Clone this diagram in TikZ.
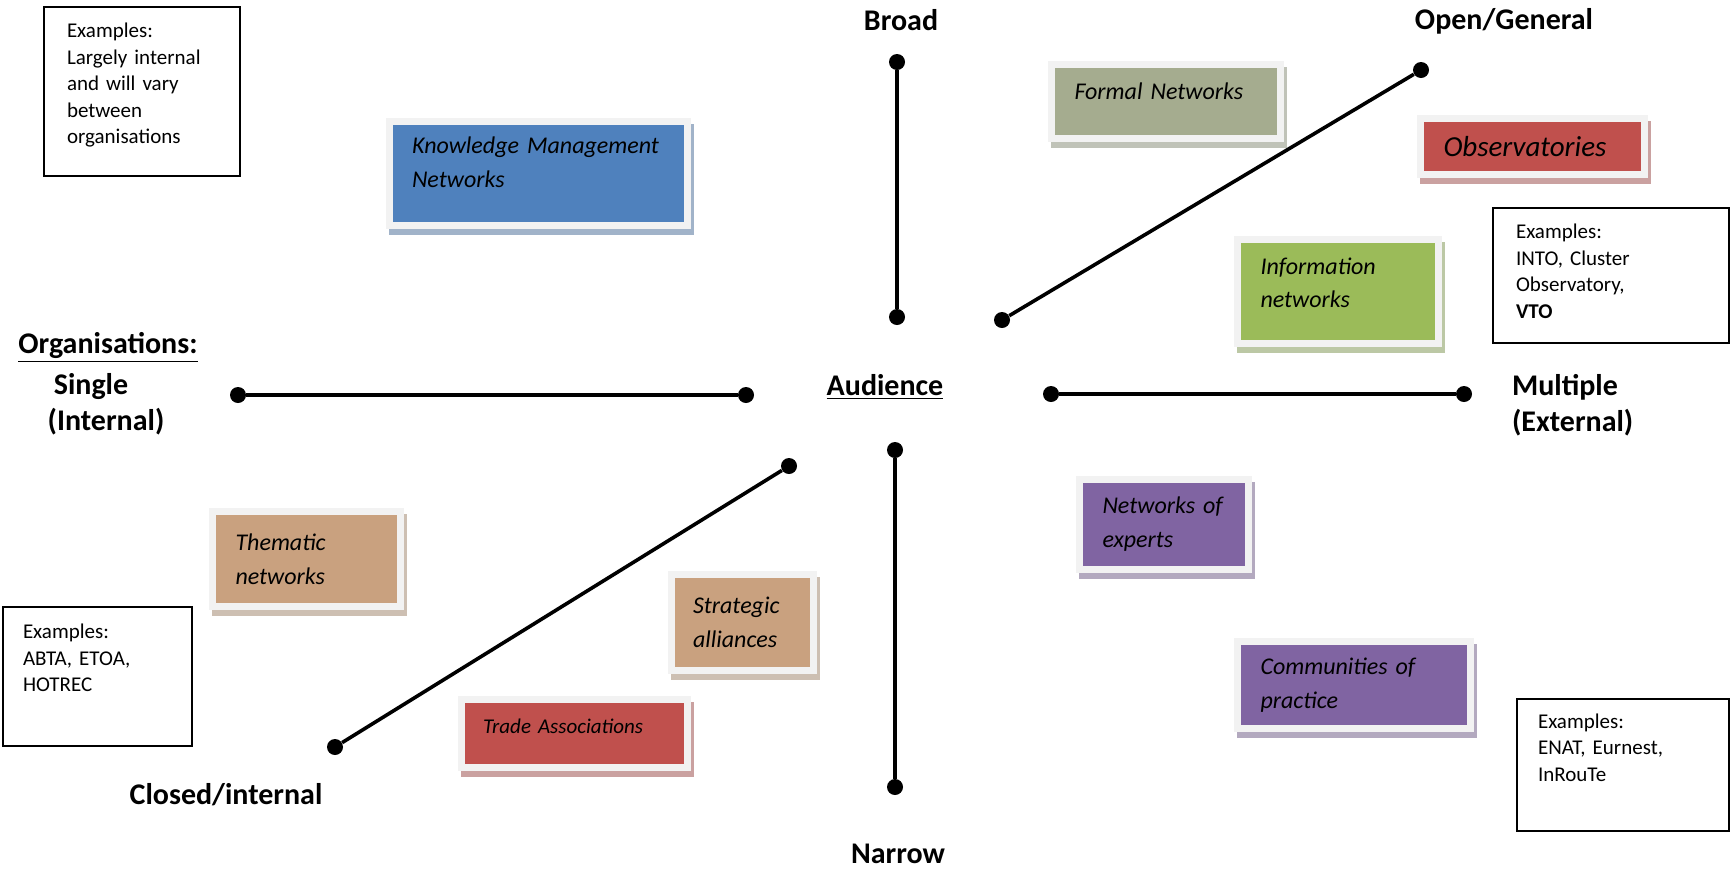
\documentclass[tikz,border=0pt]{standalone}
\usepackage{fontspec}
\setmainfont{Carlito}
\usetikzlibrary{shadows}

\definecolor{kmblue}{HTML}{4F81BD}
\definecolor{formalgrey}{HTML}{A5AC8F}
\definecolor{obsred}{HTML}{C0504D}
\definecolor{infogreen}{HTML}{9BBB59}
\definecolor{tan}{HTML}{C9A17F}
\definecolor{expurple}{HTML}{8064A2}
\definecolor{framegrey}{HTML}{F2F2F2}

\begin{document}
\begin{tikzpicture}[
		x=0.5pt, y=-0.5pt,
		axis/.style={line width=1.8pt},
		dot/.style={circle, fill, inner sep=0pt, minimum size=8pt},
		pole/.style={font=\bfseries\fontsize{15}{18}\selectfont, align=center},
		netbox/.style={fill=#1, draw=framegrey, line width=3.5pt,
			inner xsep=11.5pt, inner ysep=0pt, align=left,
			font=\itshape\fontsize{12}{17}\selectfont,
			general shadow={shadow xshift=1.5pt, shadow yshift=-3pt,
				fill=#1!60!gray!60, draw=#1!60!gray!60}},
		example/.style={draw, line width=1pt, fill=white, inner xsep=11.5pt,
			inner ysep=0pt, align=left, font=\fontsize{10.5}{13.3}\selectfont}]

		\useasboundingbox (0,0) rectangle (1733,869);

		\node[dot] (b1) at (897,62) {};
		\node[dot] (b2) at (897,317) {};
		\node[dot] (n1) at (895,450) {};
		\node[dot] (n2) at (895,787) {};
		\node[dot] (s1) at (238,395) {};
		\node[dot] (s2) at (746,395) {};
		\node[dot] (m1) at (1051,394) {};
		\node[dot] (m2) at (1464,394) {};
		\node[dot] (o1) at (1002,320) {};
		\node[dot] (o2) at (1421,70) {};
		\node[dot] (c1) at (335,747) {};
		\node[dot] (c2) at (789,466) {};

		\draw[axis] (b1) -- (b2);
		\draw[axis] (n1) -- (n2);
		\draw[axis] (s1) -- (s2);
		\draw[axis] (m1) -- (m2);
		\draw[axis] (o1) -- (o2);
		\draw[axis] (c1) -- (c2);

		\node[pole] (broad) at (901,20) {Broad};
		\node[pole] (narrow) at (898,854) {Narrow};
		\node[pole] (open) at (1504,21) {Open/General};
		\node[pole] (closed) at (226,795) {Closed/internal};
		\node[pole] (orgs) at (108,347) {\underline{Organisations:}};
		\node[pole] (single) at (91,387) {Single};
		\node[pole] (internal) at (106,422) {(Internal)};
		\node[pole] (audience) at (885,387) {\underline{Audience}};
		\node[pole, align=left, anchor=west] (multiple) at (1505,405) {Multiple\\(External)};

		\node[netbox=kmblue, minimum height=52pt, text width=126pt] (km) at (538,173) {Knowledge~Management\\Networks\\[-6pt]\mbox{}};
		\node[netbox=formalgrey, minimum height=37pt, text width=91.5pt] (formal) at (1166,101.5) {Formal~Networks\\[-7pt]\mbox{}};
		\node[netbox=obsred, minimum height=28pt, text width=89pt, font=\itshape\fontsize{14.5}{17}\selectfont] (obs) at (1532.5,146.5) {Observatories};
		\node[netbox=infogreen, minimum height=52pt, text width=77.5pt] (info) at (1338,291.5) {Information\\networks\\[-8.2pt]\mbox{}};
		\node[netbox=tan, minimum height=47.5pt, text width=71pt] (thematic) at (306.5,559) {Thematic\\networks};
		\node[netbox=tan, minimum height=48pt, text width=49.5pt, inner xsep=10.75pt] (strategic) at (742.5,622.5) {Strategic\\alliances};
		\node[netbox=obsred, minimum height=34pt, text width=91.5pt, inner xsep=10.75pt, font=\itshape\fontsize{10.5}{13}\selectfont] (trade) at (574.5,733.5) {Trade~Associations\\[-5.2pt]\mbox{}};
		\node[netbox=expurple, minimum height=45pt, text width=61.5pt] (experts) at (1164,524.5) {Networks~of\\experts};
		\node[netbox=expurple, minimum height=43.5pt, text width=93.5pt] (practice) at (1354,685) {Communities~of\\practice};

		\node[example, minimum height=84.5pt, text width=75pt] (exinternal) at (142,91.5) {Examples:\\Largely~internal\\and~will~vary\\between\\organisations\\[-5.2pt]\mbox{}};
		\node[example, minimum height=67.5pt, text width=95pt] (exinto) at (1611,275.5) {Examples:\\INTO,~Cluster\\Observatory,\\\textbf{VTO}\\[-9pt]\mbox{}};
		\node[example, minimum height=69.5pt, text width=74.5pt, inner xsep=10pt] (exabta) at (97.5,676.5) {Examples:\\ABTA,~ETOA,\\HOTREC\\[5.5pt]\mbox{}};
		\node[example, minimum height=66pt, text width=85pt, inner xsep=10.5pt] (exenat) at (1623,765) {Examples:\\ENAT,~Eurnest,\\InRouTe\\[4.4pt]\mbox{}};

\end{tikzpicture}
\end{document}
